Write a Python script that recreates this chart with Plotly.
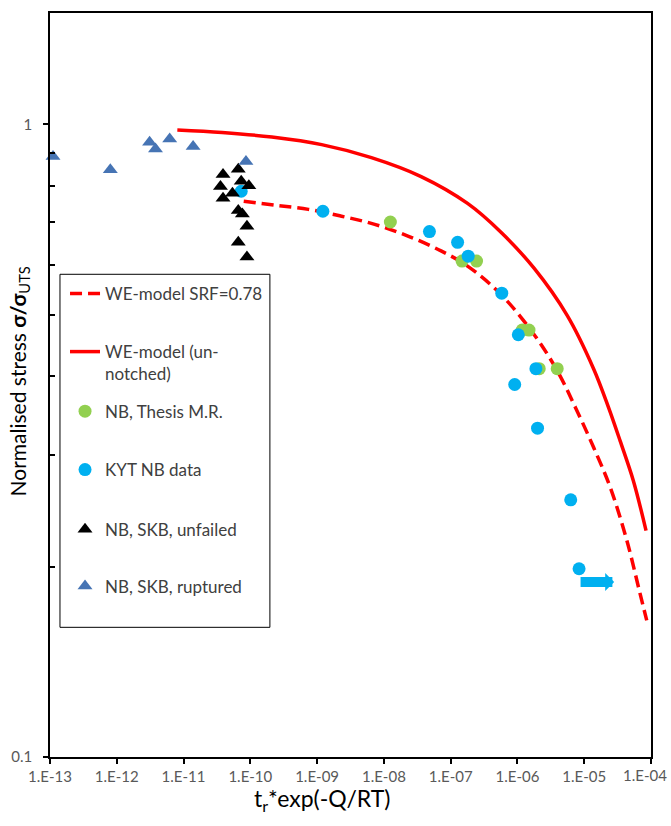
import numpy as np
import plotly.graph_objects as go

# ---- model curves (normalised stress vs. temperature-compensated time) ----
we_srf_x = [7.96e-11, 2.36e-10, 7.41e-10, 2.32e-9, 7.28e-9, 2.29e-8, 7.18e-8, 1.79e-7,
            5.62e-7, 1.76e-6, 3.94e-6, 7.38e-6, 1.38e-5, 2.45e-5, 4.35e-5, 6.86e-5, 8.63e-5]
we_srf_y = [0.756, 0.745, 0.734, 0.716, 0.695, 0.666, 0.631, 0.597,
            0.539, 0.466, 0.408, 0.357, 0.3087, 0.2669, 0.2199, 0.1812, 0.1644]

we_un_x = [8.07e-12, 3.78e-11, 2.10e-10, 1.17e-9, 6.50e-9, 3.61e-8, 1.79e-7, 5.62e-7,
           1.76e-6, 5.55e-6, 1.38e-5, 2.31e-5, 3.45e-5, 5.44e-5, 8.43e-5]
we_un_y = [0.980, 0.971, 0.955, 0.929, 0.886, 0.827, 0.750, 0.676,
           0.593, 0.499, 0.411, 0.357, 0.316, 0.2734, 0.228]

# ---- test data ----
thesis_x = [1.25e-8, 1.48e-7, 2.44e-7, 1.18e-6, 1.49e-6, 2.12e-6, 3.94e-6]
thesis_y = [0.701, 0.608, 0.608, 0.473, 0.473, 0.411, 0.411]

kyt_x = [7.3e-11, 1.22e-9, 4.81e-8, 1.27e-7, 1.83e-7, 5.82e-7, 1.03e-6, 9.1e-7,
         1.89e-6, 2.0e-6, 6.28e-6, 8.37e-6]
kyt_y = [0.784, 0.729, 0.677, 0.651, 0.619, 0.541, 0.465, 0.388,
         0.411, 0.331, 0.255, 0.1984]

unfailed_x = [3.9e-11, 6.6e-11, 3.57e-11, 7.3e-11, 9.5e-11, 5.4e-11, 3.9e-11, 6.6e-11,
              7.6e-11, 8.9e-11, 6.6e-11, 8.9e-11]
unfailed_y = [0.833, 0.849, 0.798, 0.813, 0.800, 0.778, 0.764, 0.731,
              0.722, 0.690, 0.651, 0.617]

ruptured_x = [1.11e-13, 8.0e-13, 3.1e-12, 3.8e-12, 6.2e-12, 1.39e-11, 8.6e-11]
ruptured_y = [0.890, 0.848, 0.937, 0.914, 0.948, 0.923, 0.874]

# runout indicator for the last KYT specimen (arrow extends to the right)
runout_x_end = 2.81e-5

x_decades = list(range(-13, -3))
x_tick_text = [f"1.E-{abs(e):02d}" for e in x_decades]

FONT = "Lato, Carlito, Calibri, sans-serif"
RED = "#FF0000"
GREEN = "#92D050"
CYAN = "#00B0F0"
STEEL = "#4674B4"

fig = go.Figure()

series = [
    dict(x=we_srf_x, y=we_srf_y, mode="lines", name="WE-model SRF=0.78",
         line=dict(color=RED, width=3.5, dash="12px,6px", shape="spline", smoothing=1.0)),
    dict(x=we_un_x, y=we_un_y, mode="lines", name="WE-model (un-<br>notched)",
         line=dict(color=RED, width=3.5, shape="spline", smoothing=1.0)),
    dict(x=thesis_x, y=thesis_y, mode="markers", name="NB, Thesis M.R.",
         marker=dict(color=GREEN, size=13, symbol="circle")),
    dict(x=kyt_x, y=kyt_y, mode="markers", name="KYT NB data",
         marker=dict(color=CYAN, size=13, symbol="circle")),
    dict(x=unfailed_x, y=unfailed_y, mode="markers", name="NB, SKB, unfailed",
         marker=dict(color="black", size=13, symbol="triangle-up")),
    dict(x=ruptured_x, y=ruptured_y, mode="markers", name="NB, SKB, ruptured",
         marker=dict(color=STEEL, size=13, symbol="triangle-up")),
]
# one legend per entry so each row sits at its own height inside the frame
legend_ids = ["legend", "legend2", "legend3", "legend4", "legend5", "legend6"]
legend_rows = [0.6224, 0.5295, 0.4642, 0.3857, 0.3056, 0.2292]

for s, lid in zip(series, legend_ids):
    fig.add_trace(go.Scatter(**s, legend=lid, cliponaxis=False))

legend_style = dict(x=0.025, xanchor="left", yanchor="middle",
                    bgcolor="rgba(0,0,0,0)", borderwidth=0, valign="top",
                    font=dict(family=FONT, size=17, color="#404040"))
fig.update_layout(**{lid: dict(legend_style, y=yy) for lid, yy in zip(legend_ids, legend_rows)})

# arrow for the runout specimen
arrow_y = np.log10(kyt_y[-1]) - 0.021
fig.add_annotation(
    x=np.log10(runout_x_end), y=arrow_y, ax=np.log10(kyt_x[-1]), ay=arrow_y,
    xref="x", yref="y", axref="x", ayref="y",
    showarrow=True, arrowhead=1, arrowsize=0.3, arrowwidth=10, arrowcolor=CYAN, text="")

# axis titles
fig.add_annotation(
    text="Normalised stress <b>σ/σ</b><sub>UTS</sub>", textangle=-90,
    xref="paper", yref="paper", x=-0.0513, y=0.505, xanchor="center", yanchor="middle",
    showarrow=False, font=dict(family=FONT, size=21, color="black"))
fig.add_annotation(
    text="t<sub>r</sub>*exp(-Q/RT)",
    xref="paper", yref="paper", x=0.452, y=-0.0575, xanchor="center", yanchor="middle",
    showarrow=False, font=dict(family=FONT, size=23, color="black"))

# last decade label, nudged inward so it stays inside the page
fig.add_annotation(
    text=x_tick_text[-1], xref="x", yref="paper", x=x_decades[-1], y=0,
    yshift=-7, xshift=-6, xanchor="center", yanchor="top", showarrow=False,
    font=dict(family=FONT, size=15, color="#595959"))

# legend frame
fig.add_shape(type="rect", xref="paper", yref="paper",
              x0=0.0166, x1=0.3659, y0=0.1743, y1=0.6488,
              line=dict(color="black", width=1), fillcolor="white", layer="below")

fig.update_xaxes(
    type="log", range=[-13, -4], showgrid=False, zeroline=False,
    showline=True, linecolor="black", linewidth=1.5, mirror=True,
    ticks="outside", ticklen=5, tickcolor="black", tickwidth=1.5,
    tickvals=[10.0 ** e for e in x_decades],
    ticktext=x_tick_text[:-1] + [""],
    tickfont=dict(family=FONT, size=15, color="#595959"))
fig.update_yaxes(
    type="log", range=[-1, np.log10(1.5)], showgrid=False, zeroline=False,
    showline=True, linecolor="black", linewidth=1.5, mirror=True,
    ticks="outside", ticklen=5, tickcolor="black", tickwidth=1.5,
    tickvals=[0.1, 1], ticktext=["0.1", "1"], ticklabelstandoff=8,
    tickfont=dict(family=FONT, size=15, color="#595959"),
    minor=dict(tickvals=[0.2, 0.3, 0.4, 0.5, 0.6, 0.7, 0.8, 0.9], ticks="inside",
               ticklen=5, tickcolor="black", tickwidth=1.5))

fig.update_layout(
    width=671, height=826, autosize=False,
    margin=dict(l=47, r=20, t=11, b=69),
    paper_bgcolor="white", plot_bgcolor="white",
    showlegend=True,
)

fig.write_html("out.html")
